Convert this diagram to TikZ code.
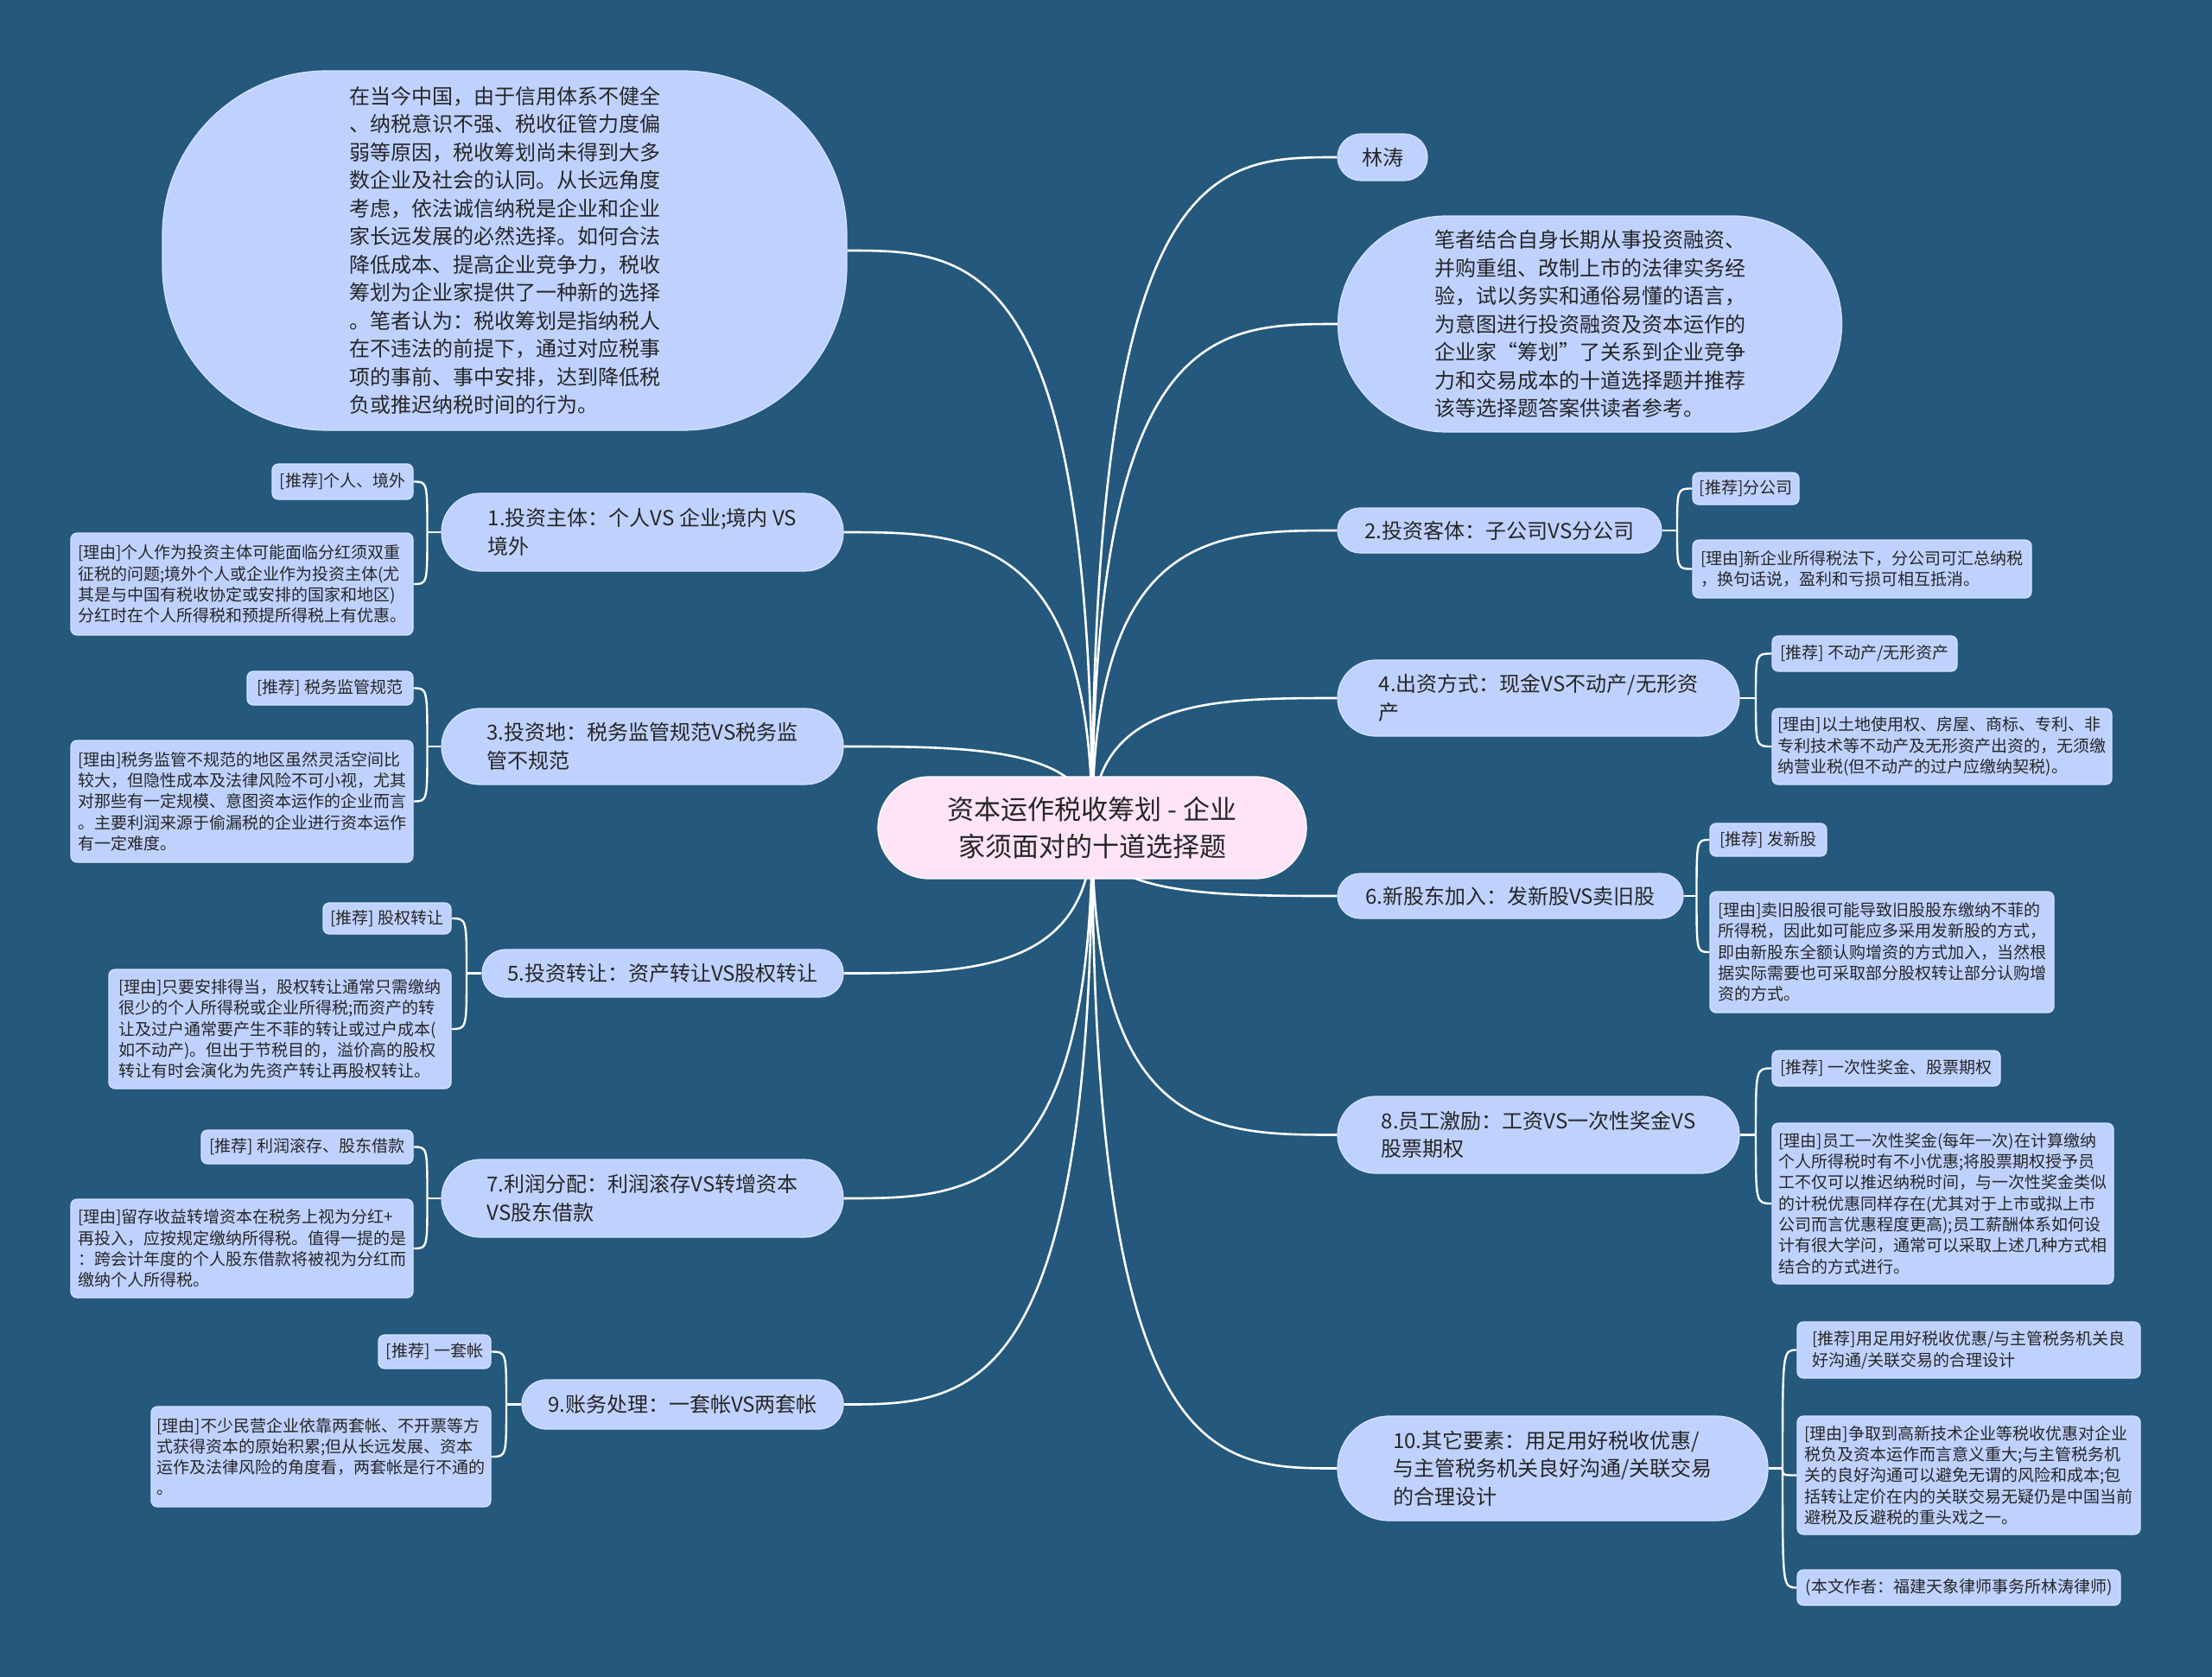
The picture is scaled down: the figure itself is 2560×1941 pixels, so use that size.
\documentclass[tikz,border=0pt]{standalone}
\usepackage{fontspec}
\newfontfamily\cjk{Noto Sans CJK SC}
\usetikzlibrary{calc}
\definecolor{bgc}{RGB}{36,88,125}
\definecolor{nodefill}{RGB}{191,210,255}
\definecolor{nodeline}{RGB}{214,226,255}
\definecolor{pinkfill}{RGB}{255,228,248}
\definecolor{txt}{RGB}{38,38,38}
\pgfdeclarelayer{back}
\pgfdeclarelayer{lines}
\pgfsetlayers{back,lines,main}
\newcommand\mlink[2]{\draw[link] (c.center) .. controls (c.center |- #1.#2) and ($(c.center |- #1.#2)!0.5!(#1.#2)$) .. (#1.#2);}
\newcommand\brlink[2]{\draw[sublink] (#1) .. controls (#1 |- #2) .. (#2);}
\begin{document}
\begin{tikzpicture}[x=1pt,y=-1pt,
  box/.style={draw=nodeline, line width=1.2pt, fill=nodefill, text=txt, inner sep=0pt, align=left},
  mainnode/.style={box, font=\cjk\fontsize{24}{32.5}\selectfont},
  leaf/.style={box, rounded corners=7pt, font=\cjk\fontsize{19}{24.3}\selectfont},
  link/.style={draw=white, line width=2.6pt},
  sublink/.style={draw=white, line width=2.4pt},
]
\useasboundingbox (0,0) rectangle (2560,1941);
\begin{pgfonlayer}{back}
\fill[bgc] (0,0) rectangle (2560,1941);
\end{pgfonlayer}

% center
\node[box, fill=pinkfill, draw=white, rounded corners=59pt, minimum width=496pt, minimum height=118pt, align=center, font=\cjk\fontsize{31}{43}\selectfont] (c) at (1264,958) {资本运作税收筹划 - 企业\\家须面对的十道选择题};

% right side
\node[mainnode, rounded corners=27pt, minimum width=104pt, minimum height=54pt, align=center] (lt) at (1600,182) {林涛};
\node[mainnode, rounded corners=125pt, minimum width=583pt, minimum height=250pt] (bigR) at (1840,375) {笔者结合自身长期从事投资融资、\\并购重组、改制上市的法律实务经\\验，试以务实和通俗易懂的语言，\\为意图进行投资融资及资本运作的\\企业家“筹划”了关系到企业竞争\\力和交易成本的十道选择题并推荐\\该等选择题答案供读者参考。};

\node[mainnode, rounded corners=26pt, minimum width=375pt, minimum height=52pt] (n2) at (1735.5,614) {2.投资客体：子公司VS分公司};
\node[leaf, minimum width=123pt, minimum height=37pt] (n2a) at (2020.5,565.5) {[推荐]分公司};
\node[leaf, minimum width=392pt, minimum height=67pt] (n2b) at (2155,658.5) {[理由]新企业所得税法下，分公司可汇总纳税\\，换句话说，盈利和亏损可相互抵消。};

\node[mainnode, rounded corners=44pt, minimum width=465pt, minimum height=88pt] (n4) at (1780.5,808) {4.出资方式：现金VS不动产/无形资\\产};
\node[leaf, minimum width=214pt, minimum height=41pt] (n4a) at (2158,756.5) {[推荐] 不动产/无形资产};
\node[leaf, minimum width=393pt, minimum height=88pt] (n4b) at (2247.5,864) {[理由]以土地使用权、房屋、商标、专利、非\\专利技术等不动产及无形资产出资的，无须缴\\纳营业税(但不动产的过户应缴纳契税)。};

\node[mainnode, rounded corners=26pt, minimum width=400pt, minimum height=52pt] (n6) at (1748,1037) {6.新股东加入：发新股VS卖旧股};
\node[leaf, minimum width=135pt, minimum height=38pt] (n6a) at (2046.5,972) {[推荐] 发新股};
\node[leaf, minimum width=398pt, minimum height=140pt] (n6b) at (2178,1102) {[理由]卖旧股很可能导致旧股股东缴纳不菲的\\所得税，因此如可能应多采用发新股的方式，\\即由新股东全额认购增资的方式加入，当然根\\据实际需要也可采取部分股权转让部分认购增\\资的方式。};

\node[mainnode, rounded corners=44pt, minimum width=465pt, minimum height=89pt] (n8) at (1780.5,1313.5) {8.员工激励：工资VS一次性奖金VS\\股票期权};
\node[leaf, minimum width=264pt, minimum height=41pt] (n8a) at (2183,1236.5) {[推荐] 一次性奖金、股票期权};
\node[leaf, minimum width=395pt, minimum height=186pt] (n8b) at (2248.5,1393) {[理由]员工一次性奖金(每年一次)在计算缴纳\\个人所得税时有不小优惠;将股票期权授予员\\工不仅可以推迟纳税时间，与一次性奖金类似\\的计税优惠同样存在(尤其对于上市或拟上市\\公司而言优惠程度更高);员工薪酬体系如何设\\计有很大学问，通常可以采取上述几种方式相\\结合的方式进行。};

\node[mainnode, rounded corners=60pt, minimum width=498pt, minimum height=121pt] (n10) at (1797,1699.5) {10.其它要素：用足用好税收优惠/\\与主管税务机关良好沟通/关联交易\\的合理设计};
\node[leaf, minimum width=397pt, minimum height=65pt] (n10a) at (2278.5,1562.5) {[推荐]用足用好税收优惠/与主管税务机关良\\好沟通/关联交易的合理设计};
\node[leaf, minimum width=397pt, minimum height=137pt] (n10b) at (2278.5,1707.5) {[理由]争取到高新技术企业等税收优惠对企业\\税负及资本运作而言意义重大;与主管税务机\\关的良好沟通可以避免无谓的风险和成本;包\\括转让定价在内的关联交易无疑仍是中国当前\\避税及反避税的重头戏之一。};
\node[leaf, minimum width=374pt, minimum height=41pt] (n10c) at (2267,1837.5) {(本文作者：福建天象律师事务所林涛律师)};

% left side
\node[mainnode, rounded corners=190pt, minimum width=792pt, minimum height=416pt] (bigL) at (584,290) {在当今中国，由于信用体系不健全\\、纳税意识不强、税收征管力度偏\\弱等原因，税收筹划尚未得到大多\\数企业及社会的认同。从长远角度\\考虑，依法诚信纳税是企业和企业\\家长远发展的必然选择。如何合法\\降低成本、提高企业竞争力，税收\\筹划为企业家提供了一种新的选择\\。笔者认为：税收筹划是指纳税人\\在不违法的前提下，通过对应税事\\项的事前、事中安排，达到降低税\\负或推迟纳税时间的行为。};

\node[mainnode, rounded corners=45pt, minimum width=465pt, minimum height=90pt] (n1) at (743.5,616) {1.投资主体：个人VS 企业;境内 VS\\境外};
\node[leaf, minimum width=163pt, minimum height=41pt] (n1a) at (396.5,557.5) {[推荐]个人、境外};
\node[leaf, minimum width=396pt, minimum height=118pt] (n1b) at (280,676) {[理由]个人作为投资主体可能面临分红须双重\\征税的问题;境外个人或企业作为投资主体(尤\\其是与中国有税收协定或安排的国家和地区)\\分红时在个人所得税和预提所得税上有优惠。};

\node[mainnode, rounded corners=44pt, minimum width=465pt, minimum height=88pt] (n3) at (743.5,864) {3.投资地：税务监管规范VS税务监\\管不规范};
\node[leaf, minimum width=192pt, minimum height=39pt] (n3a) at (382,796.5) {[推荐] 税务监管规范};
\node[leaf, minimum width=396pt, minimum height=141pt] (n3b) at (280,927.5) {[理由]税务监管不规范的地区虽然灵活空间比\\较大，但隐性成本及法律风险不可小视，尤其\\对那些有一定规模、意图资本运作的企业而言\\。主要利润来源于偷漏税的企业进行资本运作\\有一定难度。};

\node[mainnode, rounded corners=27pt, minimum width=418pt, minimum height=55pt] (n5) at (767,1126.5) {5.投资转让：资产转让VS股权转让};
\node[leaf, minimum width=148pt, minimum height=36pt] (n5a) at (448,1063) {[推荐] 股权转让};
\node[leaf, minimum width=396pt, minimum height=138pt] (n5b) at (324,1191) {[理由]只要安排得当，股权转让通常只需缴纳\\很少的个人所得税或企业所得税;而资产的转\\让及过户通常要产生不菲的转让或过户成本(\\如不动产)。但出于节税目的，溢价高的股权\\转让有时会演化为先资产转让再股权转让。};

\node[mainnode, rounded corners=45pt, minimum width=465pt, minimum height=90pt] (n7) at (743.5,1387) {7.利润分配：利润滚存VS转增资本\\VS股东借款};
\node[leaf, minimum width=245pt, minimum height=39pt] (n7a) at (355.5,1327.5) {[推荐] 利润滚存、股东借款};
\node[leaf, minimum width=396pt, minimum height=114pt] (n7b) at (280,1445) {[理由]留存收益转增资本在税务上视为分红+\\再投入，应按规定缴纳所得税。值得一提的是\\：跨会计年度的个人股东借款将被视为分红而\\缴纳个人所得税。};

\node[mainnode, rounded corners=28pt, minimum width=372pt, minimum height=57pt] (n9) at (790,1625.5) {9.账务处理：一套帐VS两套帐};
\node[leaf, minimum width=130pt, minimum height=39pt] (n9a) at (503,1564.5) {[推荐] 一套帐};
\node[leaf, minimum width=393pt, minimum height=116pt] (n9b) at (371.5,1686) {[理由]不少民营企业依靠两套帐、不开票等方\\式获得资本的原始积累;但从长远发展、资本\\运作及法律风险的角度看，两套帐是行不通的\\。};

% connectors
\begin{pgfonlayer}{lines}
\mlink{lt}{west}
\mlink{bigR}{west}
\mlink{n2}{west}
\mlink{n4}{west}
\mlink{n6}{west}
\mlink{n8}{west}
\mlink{n10}{west}
\mlink{bigL}{east}
\mlink{n1}{east}
\mlink{n3}{east}
\mlink{n5}{east}
\mlink{n7}{east}
\mlink{n9}{east}

% right branches
\coordinate (b2) at ($(n2.east)!0.5!(n2a.west |- n2.east)$);
\draw[sublink] (n2.east) -- (b2);
\brlink{b2}{n2a.west}
\brlink{b2}{n2b.west}

\coordinate (b4) at ($(n4.east)!0.5!(n4a.west |- n4.east)$);
\draw[sublink] (n4.east) -- (b4);
\brlink{b4}{n4a.west}
\brlink{b4}{n4b.west}

\coordinate (b6) at ($(n6.east)!0.5!(n6a.west |- n6.east)$);
\draw[sublink] (n6.east) -- (b6);
\brlink{b6}{n6a.west}
\brlink{b6}{n6b.west}

\coordinate (b8) at ($(n8.east)!0.5!(n8a.west |- n8.east)$);
\draw[sublink] (n8.east) -- (b8);
\brlink{b8}{n8a.west}
\brlink{b8}{n8b.west}

\coordinate (b10) at ($(n10.east)!0.5!(n10a.west |- n10.east)$);
\draw[sublink] (n10.east) -- (b10);
\brlink{b10}{n10a.west}
\brlink{b10}{n10b.west}
\brlink{b10}{n10c.west}

% left branches
\coordinate (b1) at ($(n1.west)!0.5!(n1a.east |- n1.west)$);
\draw[sublink] (n1.west) -- (b1);
\brlink{b1}{n1a.east}
\brlink{b1}{n1b.east}

\coordinate (b3) at ($(n3.west)!0.5!(n3a.east |- n3.west)$);
\draw[sublink] (n3.west) -- (b3);
\brlink{b3}{n3a.east}
\brlink{b3}{n3b.east}

\coordinate (b5) at ($(n5.west)!0.5!(n5a.east |- n5.west)$);
\draw[sublink] (n5.west) -- (b5);
\brlink{b5}{n5a.east}
\brlink{b5}{n5b.east}

\coordinate (b7) at ($(n7.west)!0.5!(n7a.east |- n7.west)$);
\draw[sublink] (n7.west) -- (b7);
\brlink{b7}{n7a.east}
\brlink{b7}{n7b.east}

\coordinate (b9) at ($(n9.west)!0.5!(n9a.east |- n9.west)$);
\draw[sublink] (n9.west) -- (b9);
\brlink{b9}{n9a.east}
\brlink{b9}{n9b.east}
\end{pgfonlayer}
\end{tikzpicture}
\end{document}
